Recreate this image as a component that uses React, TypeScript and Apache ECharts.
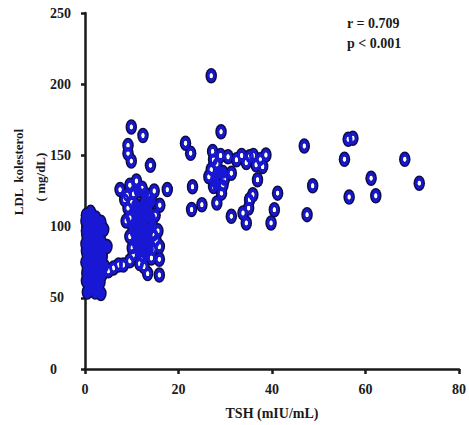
import React, { useEffect, useRef } from "react";
import * as echarts from "echarts";

// Heavily overlapping patients (cluster cores): TSH (mIU/mL)
const denseTsh: number[] = [
  // next to the y axis
  0.3, 1.2, 2.3, 3.4, 0.6, 1.7, 2.8, 4.0, 0.4, 1.3, 2.4, 3.5, 0.8, 1.9, 3.0, 4.7, 0.5, 1.6,
  2.6, 3.7, 0.9, 2.0, 3.1, 0.4, 1.5, 2.6, 3.6, 0.8, 1.9, 2.9, 0.5, 3.4, 4.2, 1.1, 2.2,
  0.2, 1.0, 1.9, 2.9, 0.3, 1.1, 2.0, 3.0, 0.2, 1.0, 2.1, 2.8, 0.3, 1.3, 2.3, 3.3, 0.2, 1.2,
  2.2, 3.0, 0.5, 1.4, 2.5, 0.3, 1.2, 2.2, 3.2, 1.4, 2.2,
  // middle cluster core
  12.7, 10.8, 12.0, 13.5, 10.2, 11.7, 13.0, 14.4, 11.0, 12.4, 13.8, 11.6, 13.0, 11.3, 12.8, 14.2,
  11.5, 13.0, 14.2, 11.0, 12.6, 10.5, 12.0, 13.4, 11.0, 12.4, 13.8, 10.8,
  // right cluster core
  27.8, 28.0, 28.5, 29.5,
];
// Heavily overlapping patients (cluster cores): LDL kolesterol (mg/dL)
const denseLdl: number[] = [
  108, 110, 106, 103, 101, 99, 97, 98, 94, 92, 91, 89, 87, 85, 83, 86, 80, 78,
  76, 79, 73, 71, 69, 67, 65, 63, 66, 60, 58, 56, 54, 53, 72, 83, 95,
  104, 106, 103, 101, 97, 96, 93, 94, 88, 89, 88, 86, 83, 81, 80, 82, 75, 75,
  74, 73, 70, 70, 68, 62, 62, 61, 61, 56, 54,
  117, 110, 107, 111, 100, 102, 98, 101, 90, 92, 88, 82, 80, 125, 123, 118,
  113, 114, 106, 105, 104, 96, 96, 94, 87, 86, 84, 115,
  134, 130, 138, 138,
];

// Other patients: TSH (mIU/mL)
const ringTsh: number[] = [
  // bridge
  5.0, 6.1, 7.2, 8.2, 9.6,
  // middle cluster edge
  7.5, 8.5, 9.6, 11.0, 10.4, 12.2, 13.6, 14.8, 17.6, 9.2, 15.0, 16.0, 8.8, 15.6, 9.6, 15.2,
  10.1, 14.5, 15.9, 10.3, 15.9, 11.7, 13.4, 15.9, 12.6, 9.0, 10.0, 9.6, 14.8, 12.3, 14.2,
  // upper left
  9.9, 12.4, 9.2, 9.2, 9.9, 14.0,
  // around 22
  21.5, 22.6, 23.0, 22.8, 25.0,
  // right cluster
  27.0, 29.1, 27.3, 27.5, 30.6, 32.4, 31.3, 35.2, 36.6, 38.7, 38.0, 36.9, 27.5, 29.2, 28.2, 31.3,
  33.8, 35.2, 34.5, 41.2, 40.5, 39.8, 29.5, 35.0, 35.9, 27.0, 28.2, 29.0, 26.5, 29.8, 33.5, 34.5,
  36.0, 37.5,
  // far right
  46.9, 48.7, 47.5, 56.3, 57.3, 55.5, 56.5, 61.2, 62.2, 68.4, 71.5,
];

// Other patients: LDL kolesterol (mg/dL)
const ringLdl: number[] = [
  69, 71, 73, 73, 76,
  126, 119, 129, 132, 123, 127, 121, 125, 126, 113, 108, 115, 104, 97, 93, 90,
  85, 84, 86, 80, 77, 74, 67, 66, 72, 122, 117, 106, 94, 79, 78,
  170, 164, 157, 151.5, 146, 143,
  158.5, 151.5, 128, 112, 115.4,
  206, 166.6, 152.7, 147, 149, 147, 137.5, 149, 143.4, 150.3, 142.2, 132.9, 128.2, 123.5, 116.6, 107.2,
  109.6, 118.9, 102.6, 123.5, 111.9, 102.6, 129, 113, 122.4, 140, 144, 150, 135, 133, 150, 145,
  150, 147,
  156.6, 128.7, 108.4, 161.3, 162, 147.3, 120.8, 134, 121.7, 147.3, 130.5,
];

const xTicks = { min: 0, max: 80, interval: 20 };
const yTicks = { min: 0, max: 250, interval: 50 };

const ellipsePath = "path://M10,0 A10,13 0 1,1 10,26 A10,13 0 1,1 10,0 Z";
const ringPath =
  "path://M10,0 A10,13 0 1,1 10,26 A10,13 0 1,1 10,0 Z M10,6.8 A4.7,6.2 0 1,0 10,19.2 A4.7,6.2 0 1,0 10,6.8 Z";

const FONT = "'Liberation Serif', 'Times New Roman', serif";

export default function App() {
  const ref = useRef<HTMLDivElement>(null);
  useEffect(() => {
    if (!ref.current) return;
    const chart = echarts.init(ref.current, undefined, { renderer: "svg" });
    const rings = ringTsh.map((x, i) => [x, ringLdl[i]]);
    const dense = denseTsh.map((x, i) => [x, denseLdl[i]]);
    const axisText = {
      fontFamily: FONT,
      fontWeight: "bold" as const,
      fontSize: 14,
      color: "#1a1a1a",
    };
    const layer = (d: number[][], symbol: string, size: number[], color: string) => ({
      type: "scatter",
      data: d,
      symbol,
      symbolSize: size,
      silent: true,
      itemStyle: { color, opacity: 1, borderWidth: 0 },
    });
    const textEl = (text: string, x: number, y: number, size: number, rot: number, align: string) => ({
      type: "text",
      x,
      y,
      rotation: rot,
      style: {
        text,
        font: `bold ${size}px ${FONT}`,
        fill: "#1a1a1a",
        textAlign: align,
        textVerticalAlign: "middle",
      },
    });
    chart.setOption({
      animation: false,
      backgroundColor: "#ffffff",
      grid: { left: 85, right: 4, top: 13, bottom: 55, containLabel: false },
      xAxis: {
        type: "value",
        min: xTicks.min,
        max: xTicks.max,
        interval: xTicks.interval,
        axisLine: { show: true, lineStyle: { color: "#1a1a1a", width: 2.5 } },
        axisTick: { show: true, length: 5, lineStyle: { color: "#1a1a1a", width: 2.5 } },
        axisLabel: { ...axisText, margin: 13 },
        splitLine: { show: false },
        name: "TSH (mIU/mL)",
        nameLocation: "middle",
        nameGap: 37,
        nameTextStyle: { ...axisText },
      },
      yAxis: {
        type: "value",
        min: yTicks.min,
        max: yTicks.max,
        interval: yTicks.interval,
        axisLine: { show: true, lineStyle: { color: "#1a1a1a", width: 2.5 } },
        axisTick: { show: true, length: 4, lineStyle: { color: "#1a1a1a", width: 2.5 } },
        axisLabel: { ...axisText, margin: 35, align: "left" },
        splitLine: { show: false },
      },
      graphic: [
        textEl("LDL  kolesterol", 18, 172, 13, Math.PI / 2, "center"),
        textEl("( mg/dL)", 40, 177, 13, Math.PI / 2, "center"),
        textEl("r = 0.709", 347, 23, 14, 0, "left"),
        textEl("p < 0.001", 347, 43, 14, 0, "left"),
      ],
      series: [
        layer(dense, ellipsePath, [11.5, 15.5], "#0c0c46"),
        layer(rings, ellipsePath, [11.5, 15.5], "#0c0c46"),
        layer(rings, ellipsePath, [3.6, 5.4], "#ffffff"),
        layer(rings, ringPath, [8.6, 12.6], "#1818d4"),
        layer(dense, ellipsePath, [8.6, 12.6], "#1818d4"),
      ],
    });
    return () => chart.dispose();
  }, []);
  return (
    <div
      ref={ref}
      style={{ position: "absolute", left: 0, top: 0, width: 469, height: 425, background: "#fff" }}
    />
  );
}
